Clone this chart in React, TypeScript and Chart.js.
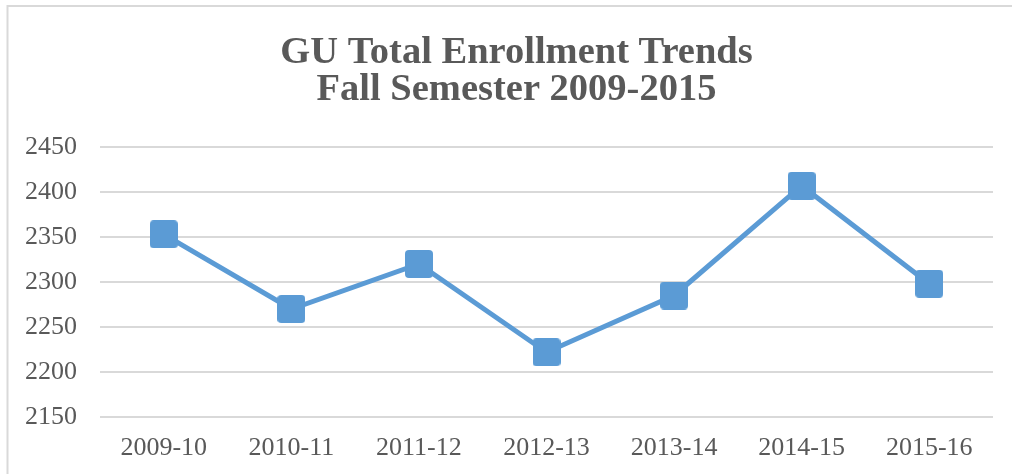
import React, { useEffect, useRef } from "react";
import { Chart, registerables } from "chart.js";

Chart.register(...registerables);

const categories = ["2009-10", "2010-11", "2011-12", "2012-13", "2013-14", "2014-15", "2015-16"];
const enrollment = [2353, 2270, 2320, 2222, 2285, 2407, 2298];
const titleLines = ["GU Total Enrollment Trends", "Fall Semester 2009-2015"];
const yMin = 2150;
const yMax = 2450;
const yStep = 50;

const BLUE = "#5B9BD5";
const TEXT = "#595959";
const GRID = "#d9d9d9";
const FONT = "'Liberation Serif', 'Times New Roman', serif";

function makeMarker(): HTMLCanvasElement {
  const size = 28;
  const c = document.createElement("canvas");
  c.width = size;
  c.height = size;
  const ctx = c.getContext("2d")!;
  const r = 4;
  ctx.fillStyle = BLUE;
  ctx.beginPath();
  ctx.moveTo(r, 0);
  ctx.lineTo(size - r, 0);
  ctx.quadraticCurveTo(size, 0, size, r);
  ctx.lineTo(size, size - r);
  ctx.quadraticCurveTo(size, size, size - r, size);
  ctx.lineTo(r, size);
  ctx.quadraticCurveTo(0, size, 0, size - r);
  ctx.lineTo(0, r);
  ctx.quadraticCurveTo(0, 0, r, 0);
  ctx.closePath();
  ctx.fill();
  return c;
}

const framePlugin = {
  id: "frame",
  afterLayout(chart: any) {
    const t = chart.titleBlock;
    if (t) {
      t.left = 36;
    }
  },
  beforeDraw(chart: any) {
    const ctx = chart.ctx;
    ctx.save();
    ctx.fillStyle = "#ffffff";
    ctx.fillRect(0, 0, chart.width, chart.height);
    ctx.strokeStyle = GRID;
    ctx.lineWidth = 2;
    ctx.beginPath();
    ctx.moveTo(7.5, chart.height);
    ctx.lineTo(7.5, 6);
    ctx.lineTo(chart.width, 6);
    ctx.stroke();
    ctx.restore();
  },
};

export default function App() {
  const ref = useRef<HTMLCanvasElement | null>(null);

  useEffect(() => {
    document.body.style.margin = "0";
    const canvas = ref.current;
    if (!canvas) return;
    const marker = makeMarker();
    const chart = new Chart(canvas, {
      type: "line",
      data: {
        labels: categories,
        datasets: [
          {
            label: "Enrollment",
            data: enrollment,
            borderColor: BLUE,
            backgroundColor: BLUE,
            borderWidth: 5,
            pointStyle: marker as any,
            pointRadius: 14,
            tension: 0,
            fill: false,
          },
        ],
      },
      options: {
        animation: false,
        responsive: false,
        maintainAspectRatio: false,
        layout: { padding: { left: 0, right: 15, top: 0, bottom: 0 } },
        plugins: {
          legend: { display: false },
          tooltip: { enabled: false },
          title: {
            display: true,
            text: titleLines,
            color: TEXT,
            font: { family: FONT, size: 38.5, weight: "bold", lineHeight: 36.5 / 38.5 },
            padding: { top: 35, bottom: 39 },
          },
        },
        scales: {
          x: {
            offset: true,
            grid: { display: false, drawTicks: false },
            border: { display: false },
            ticks: {
              color: TEXT,
              font: { family: FONT, size: 26 },
              padding: 16,
              maxRotation: 0,
              autoSkip: false,
            },
            afterFit(scale: any) {
              scale.height = 57;
            },
          },
          y: {
            min: yMin,
            max: yMax,
            grid: { color: GRID, lineWidth: 2, drawTicks: false },
            border: { display: false },
            ticks: {
              stepSize: yStep,
              color: TEXT,
              font: { family: FONT, size: 26 },
              padding: 23,
              callback: (v: any) => String(v),
            },
            afterFit(scale: any) {
              scale.width = 100;
            },
          },
        },
      },
      plugins: [framePlugin],
    });
    return () => chart.destroy();
  }, []);

  return (
    <div style={{ width: 1012, height: 474, position: "relative" }}>
      <canvas ref={ref} width={1012} height={474} style={{ display: "block" }} />
    </div>
  );
}
